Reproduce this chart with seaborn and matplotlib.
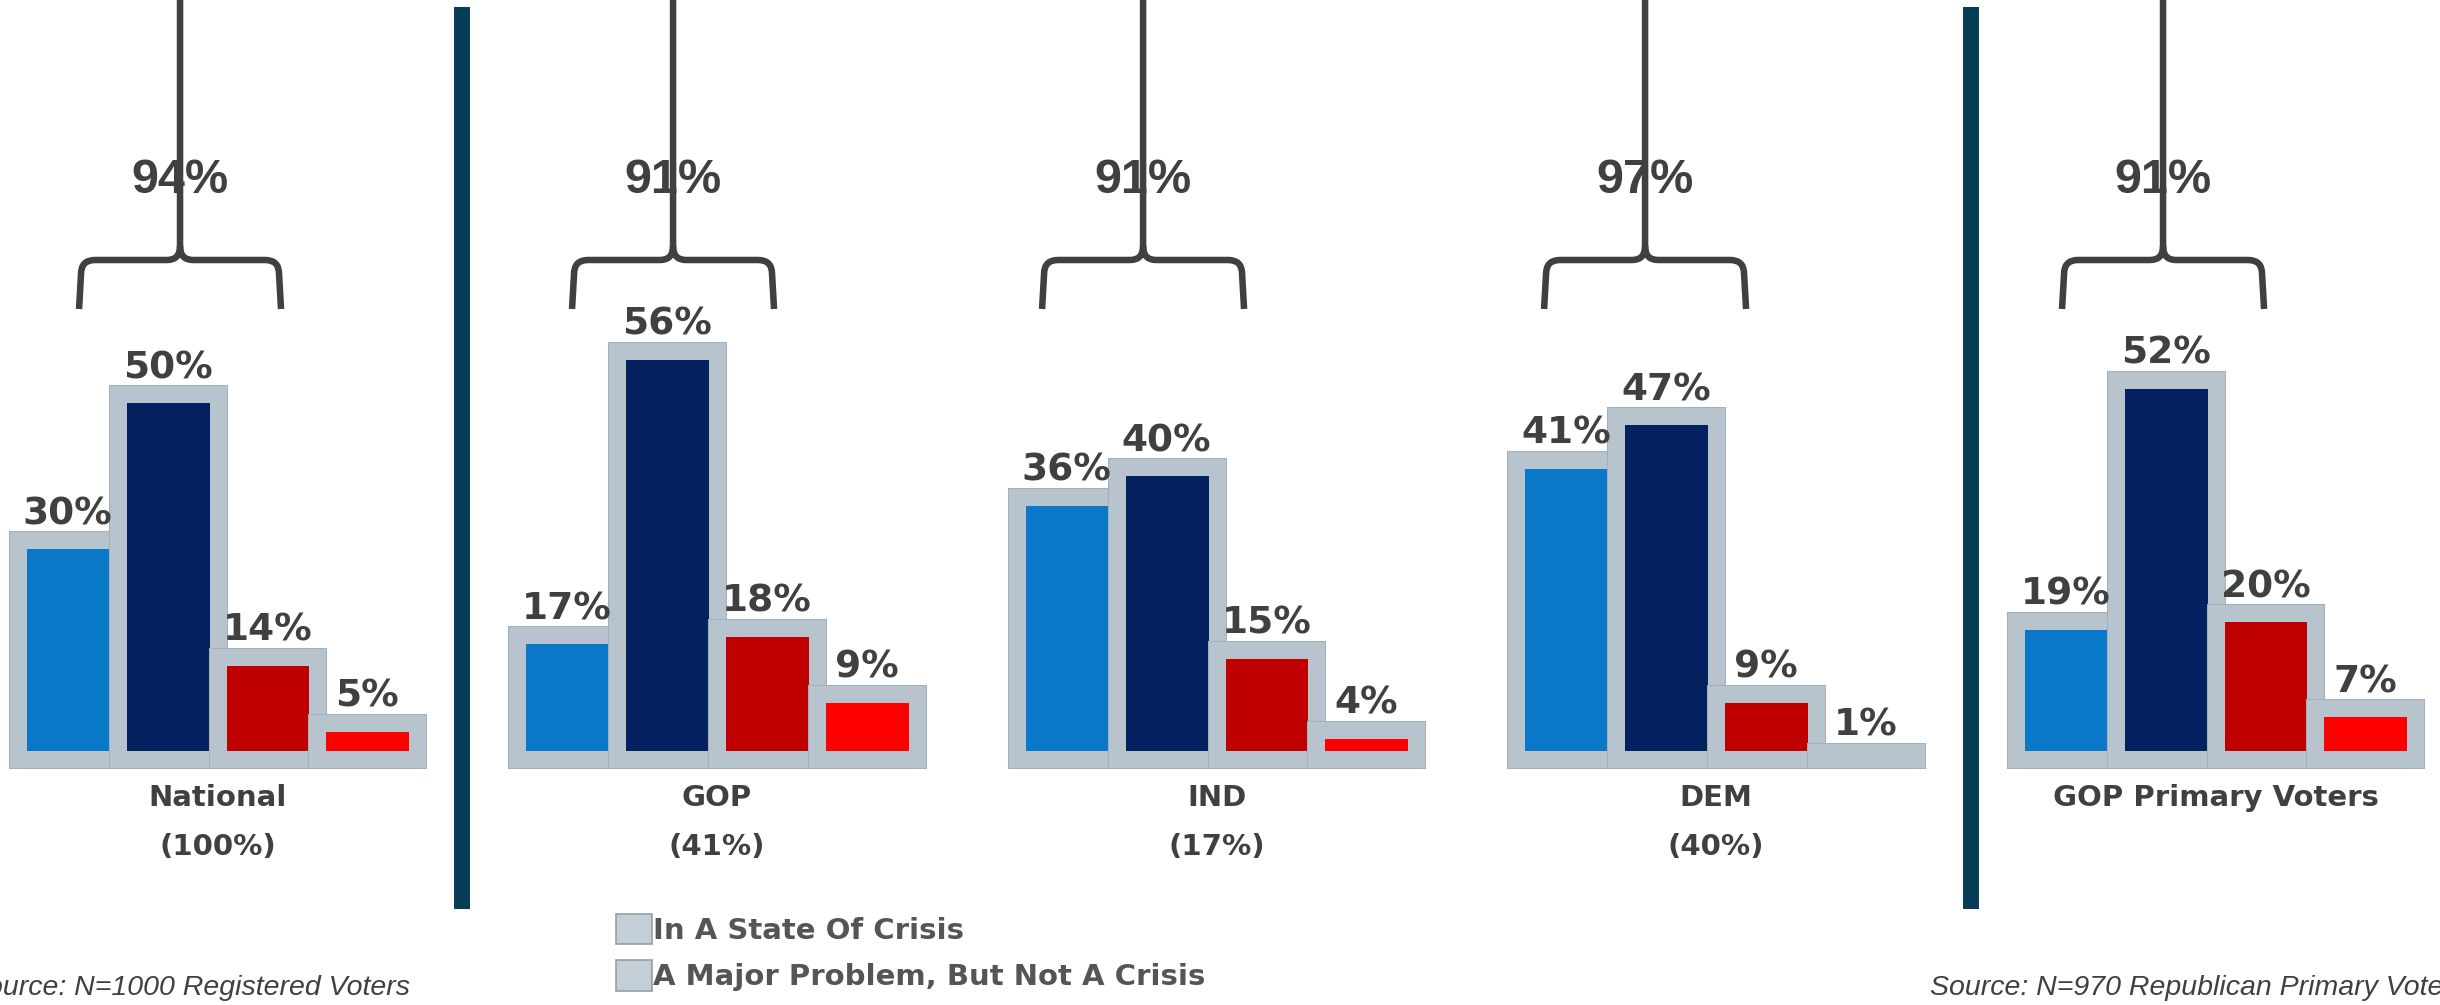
import numpy as np
import pandas as pd
import matplotlib
matplotlib.use("Agg")
import matplotlib.pyplot as plt
import matplotlib.patheffects as pe
import matplotlib.transforms as mtransforms
from matplotlib.patches import Patch, PathPatch
from matplotlib.path import Path
import seaborn as sns

# ---------------- data ----------------
groups = ["National\n(100%)", "GOP\n(41%)", "IND\n(17%)", "DEM\n(40%)", "GOP Primary Voters"]
responses = ["In A State Of Crisis", "A Major Problem, But Not A Crisis",
             "A Minor Problem", "Not A Problem"]
crisis = [30, 17, 36, 41, 19]
major = [50, 56, 40, 47, 52]
minor = [14, 18, 15, 9, 20]
not_problem = [5, 9, 4, 1, 7]
combined = [94, 91, 91, 97, 91]
source_left = "Source: N=1000 Registered Voters"
source_right = "Source: N=970 Republican Primary Voters"

# ---------------- style ----------------
bar_colors = ["#0a78c8", "#03215f", "#c00000", "#ff0000"]
FRAME = "#b7c4ce"
TEXT = "#404040"
W, H, DPI = 2440, 1005, 100
PXX = 499.5            # px per group unit on x
brace_centers = [-0.075, 0.912, 1.853, 2.858, 3.895]
dividers = [0.49, 3.51]

sns.set_style("white")
plt.rcParams["font.family"] = ["DejaVu Sans"]

series = [crisis, major, minor, not_problem]
rows = []
for resp, vals in zip(responses, series):
    for g, v in zip(groups, vals):
        rows.append({"group": g, "response": resp, "value": v})
df = pd.DataFrame(rows)

fig = plt.figure(figsize=(W / DPI, H / DPI), dpi=DPI)
fig.patch.set_facecolor("white")
ax = fig.add_axes([0, 0, 1, 1])
ax.set_facecolor("none")

sns.barplot(data=df, x="group", y="value", hue="response", order=groups,
            hue_order=responses, palette=bar_colors, saturation=1, width=0.8,
            gap=0, errorbar=None, edgecolor=FRAME, linewidth=12.24,
            legend=False, ax=ax)

for cont in ax.containers:
    for bar in cont:
        bar.set_joinstyle("miter")
        bar.set_path_effects([pe.Stroke(linewidth=13.7, foreground="#a3b0ba"),
                              pe.Normal()])

ax.set_xlim(-217.5 / PXX, (W - 217.5) / PXX)
ax.set_ylim(-33.63, 104.04)

# value labels
for cont, vals in zip(ax.containers, series):
    for bar, v in zip(cont, vals):
        ax.annotate(f"{v}%", xy=(bar.get_x() + bar.get_width() / 2, bar.get_height()),
                    xytext=(0, 11.8), textcoords="offset points", ha="center",
                    va="baseline", fontsize=27, fontweight="bold", color=TEXT,
                    zorder=6)

# axis / category labels
ax.spines["bottom"].set_position(("data", 0))
sns.despine(ax=ax, left=True, bottom=True)
ax.set_yticks([])
ax.set_xlabel("")
ax.set_ylabel("")
ax.tick_params(axis="x", length=0, pad=18, labelsize=21, labelcolor=TEXT)
for lab in ax.get_xticklabels():
    lab.set_fontweight("bold")
    lab.set_linespacing(1.95)

# dividers
for d in dividers:
    ax.axvline(d, ymin=1 - 909 / H, ymax=1 - 7 / H, color="#083d57", lw=11.5,
               solid_capstyle="butt", zorder=3)

# braces with totals
blend = mtransforms.blended_transform_factory(ax.transData, ax.transAxes)


def brace(sx, half=101, r=14):
    def P(dx, py):
        return (sx + dx / PXX, 1 - py / H)
    verts, codes = [], []
    for s in (-1, 1):
        seg = [P(s * half, 309), P(s * (half - 2), 260 + r),
               P(s * (half - 2), 260), P(s * (half - 2 - r), 260),
               P(s * 13, 260), P(0, 260), P(0, 246)]
        c = [Path.MOVETO, Path.LINETO, Path.CURVE3, Path.CURVE3,
             Path.LINETO, Path.CURVE3, Path.CURVE3]
        if s == -1:
            seg.append(P(0, -10))
            c.append(Path.LINETO)
        verts += seg
        codes += c
    patch = PathPatch(Path(verts, codes), transform=blend, fill=False,
                      edgecolor=TEXT, lw=4.7, capstyle="butt",
                      joinstyle="round", zorder=8, clip_on=False)
    ax.add_patch(patch)


for sx, tot in zip(brace_centers, combined):
    ax.text(sx, 1 - 193 / H, f"{tot}%", transform=blend, ha="center",
            va="baseline", fontsize=35, fontweight="bold",
            family=["Liberation Sans", "DejaVu Sans"], color=TEXT, zorder=7)
    brace(sx)

# legend
handles = [Patch(facecolor="#c3ced6", edgecolor="#98a5ae", linewidth=1.3)
           for _ in responses]
fig.legend(handles, responses, loc="upper left",
           bbox_to_anchor=(616 / W, 1 - 914 / H), frameon=False, borderpad=0,
           borderaxespad=0, handlelength=1.23, handleheight=1.23,
           handletextpad=0.05, labelspacing=0.52,
           prop=dict(family="DejaVu Sans", weight="bold", size=21),
           labelcolor="#555555")

# sources
fig.text(410 / W, 1 - 995 / H, source_left, ha="right", va="baseline",
         fontsize=20.5, style="italic", family=["Liberation Sans", "DejaVu Sans"],
         color=TEXT)
fig.text(1930 / W, 1 - 995 / H, source_right, ha="left", va="baseline",
         fontsize=20.5, style="italic", family=["Liberation Sans", "DejaVu Sans"],
         color=TEXT)

fig.savefig("out.png", dpi=DPI, facecolor="white")
